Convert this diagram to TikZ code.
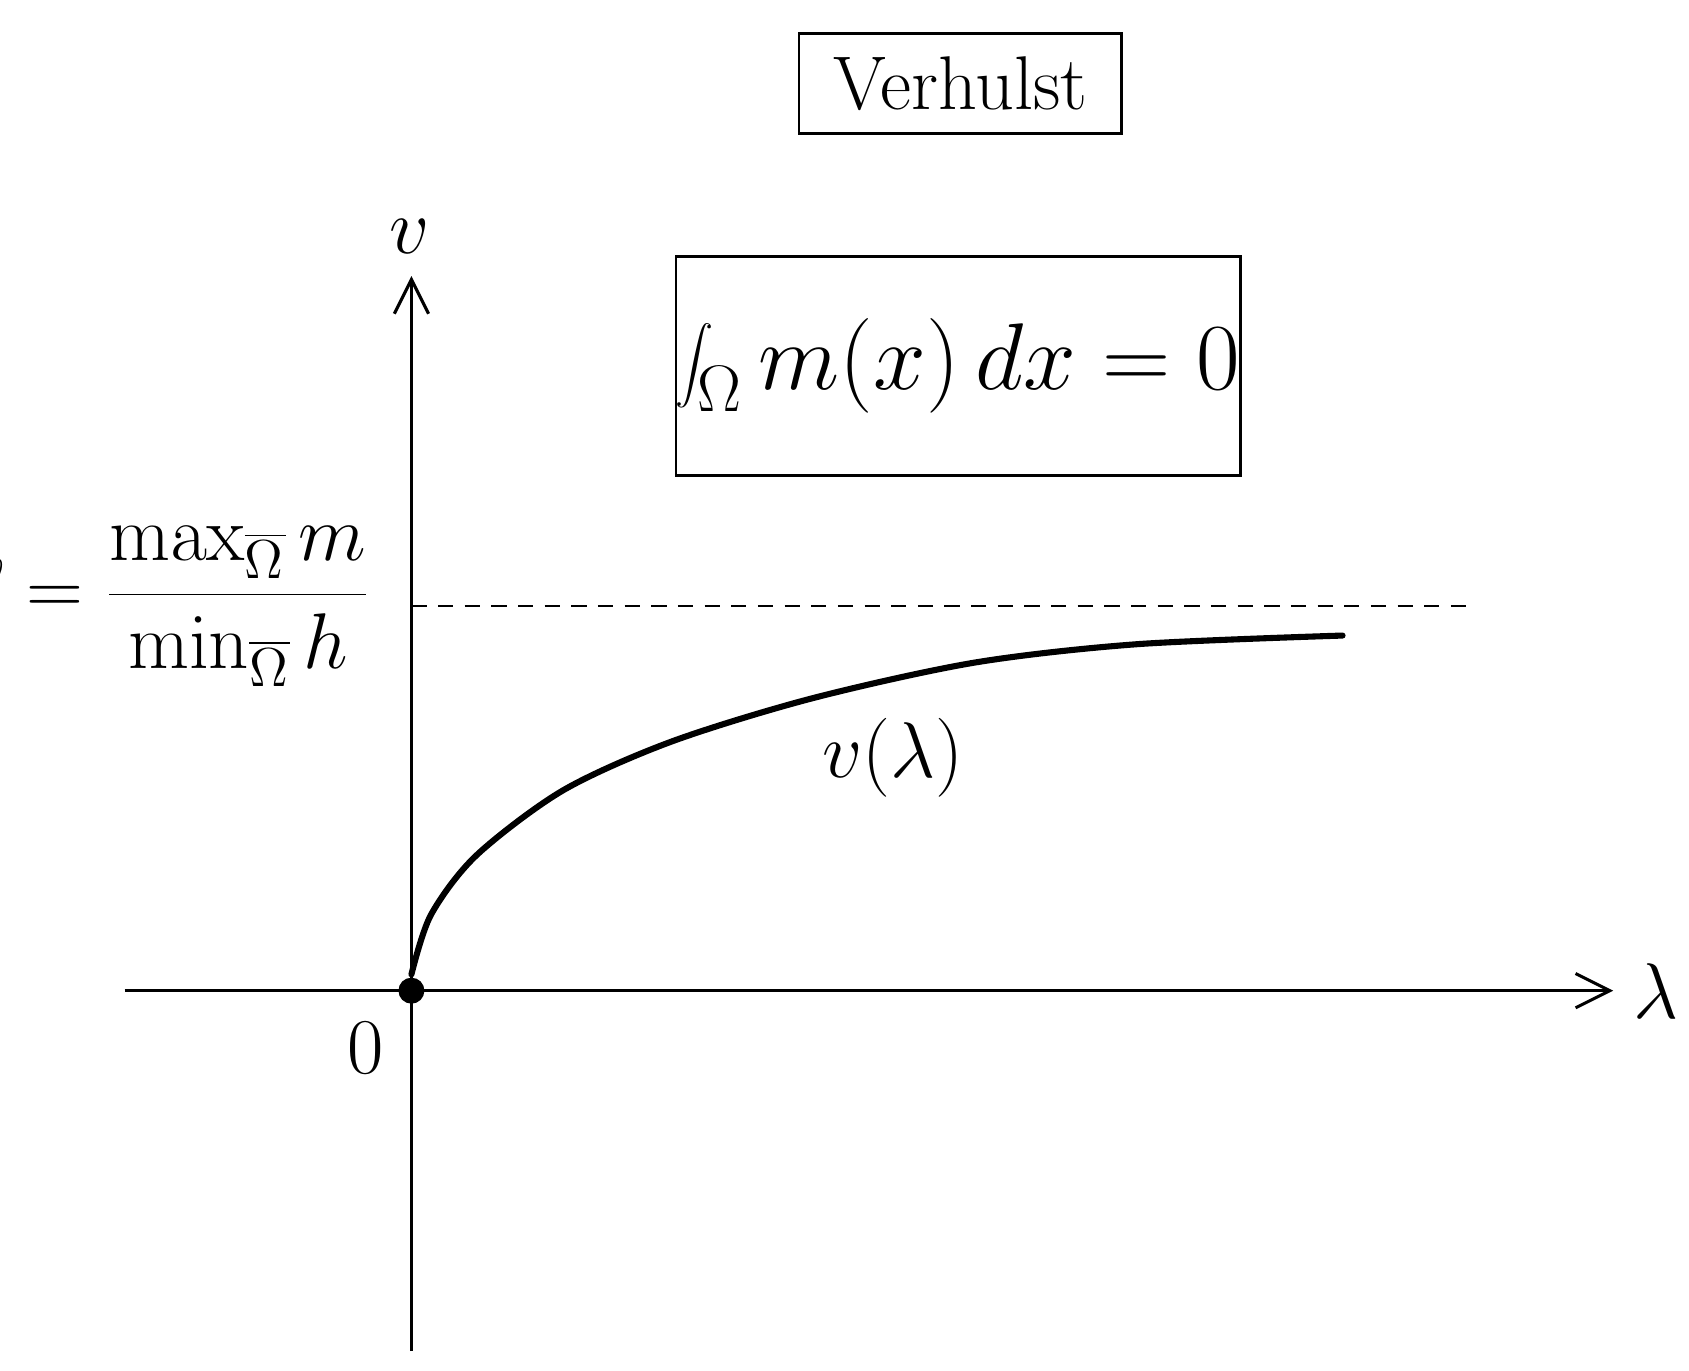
\documentclass[tikz,border=0pt]{standalone}
\usetikzlibrary{arrows.meta}
\begin{document}
\begin{tikzpicture}[x=0.01cm,y=-0.01cm,
  big/.style={font=\fontsize{20}{24}\selectfont},
  box/.style={draw,line width=0.7pt,inner sep=0pt}]
\useasboundingbox (0,0) rectangle (1560,1266);
\coordinate (O) at (380,915);
\coordinate (xl) at (115,915);
\coordinate (xr) at (1490,915);
\coordinate (yb) at (380,1248);
\coordinate (yt) at (380,255);
\draw[line width=0.8pt,-{Straight Barb[length=9pt,width=9pt]}] (xl) -- (xr);
\draw[line width=0.8pt,-{Straight Barb[length=9pt,width=9pt]}] (yb) -- (yt);
\node[big] (lam) at (1530,915) {$\lambda$};
\node[big] (v) at (378,218) {$v$};
\node[big] (zero) at (338,968) {$0$};
\coordinate (d1) at (380,560);
\coordinate (d2) at (1360,560);
\draw[line width=0.6pt,dash pattern=on 4pt off 3pt] (d1) -- (d2);
\node[big,anchor=east] (ell) at (355,560) {$\ell=\displaystyle\frac{\max_{\overline{\Omega}} m}{\min_{\overline{\Omega}} h}$};
\draw[line width=1.6pt,line cap=round] plot[smooth] coordinates {(380,900) (398,845) (440,790) (520,730) (620,685) (750,645) (900,612) (1050,595) (1240,587)};
\fill (O) circle (12);
\node[big] (vl) at (825,700) {$v(\lambda)$};
\node[box,big,minimum width=2.98cm,minimum height=0.92cm] (ver) at (887,77) {Verhulst};
\node[box,font=\fontsize{24}{28}\selectfont,minimum width=5.08cm,minimum height=2.02cm] (int) at (885,338) {$\displaystyle\int_\Omega m(x)\,dx=0$};
\end{tikzpicture}
\end{document}
